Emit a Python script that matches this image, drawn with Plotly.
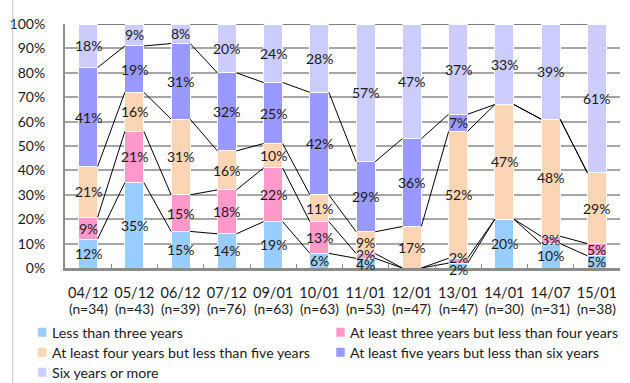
import plotly.graph_objects as go

# Survey waves and sample sizes
periods = ["04/12", "05/12", "06/12", "07/12", "09/01", "10/01",
           "11/01", "12/01", "13/01", "14/01", "14/07", "15/01"]
sample_sizes = [34, 43, 39, 76, 63, 63, 53, 47, 47, 30, 31, 38]

# Share of respondents per tenure band (%)
less_than_3 = [12, 35, 15, 14, 19, 6, 4, 0, 2, 20, 10, 5]
from_3_to_4 = [9, 21, 15, 18, 22, 13, 2, 0, 2, 0, 3, 5]
from_4_to_5 = [21, 16, 31, 16, 10, 11, 9, 17, 52, 47, 48, 29]
from_5_to_6 = [41, 19, 31, 32, 25, 42, 29, 36, 7, 0, 0, 0]
six_or_more = [18, 9, 8, 20, 24, 28, 57, 47, 37, 33, 39, 61]

series_names = [
    "Less than three years",
    "At least three years but less than four years",
    "At least four years but less than five years",
    "At least five years but less than six years",
    "Six years or more",
]
series_values = [less_than_3, from_3_to_4, from_4_to_5, from_5_to_6, six_or_more]
series_colors = ["#99CCFF", "#FF99CC", "#FCD5B4", "#9999FF", "#CCCCFF"]

FONT = "Lato"
TEXT_COLOR = "#1a1a1a"
BAR_WIDTH = 0.41

# Figure geometry (pixels)
FIG_W, FIG_H = 630, 383
M_L, M_R, M_T, M_B = 62, 10, 24, 115
PLOT_W = FIG_W - M_L - M_R
PLOT_H = FIG_H - M_T - M_B


def px_x(px):
    return (px - M_L) / PLOT_W


def px_y(py):
    return (FIG_H - M_B - py) / PLOT_H


n = len(periods)
xs = list(range(n))
totals = [sum(vals[i] for vals in series_values) for i in range(n)]
normed = [[vals[i] * 100.0 / totals[i] for i in range(n)] for vals in series_values]

# cumulative bottoms / tops of each stacked segment
bottoms, tops = [], []
running = [0.0] * n
for vals in normed:
    bottoms.append(running[:])
    running = [running[i] + vals[i] for i in range(n)]
    tops.append(running[:])

fig = go.Figure()

for name, vals, color in zip(series_names, normed, series_colors):
    fig.add_trace(go.Bar(
        x=xs, y=vals, name=name, width=BAR_WIDTH,
        marker=dict(color=color, line=dict(color="white", width=1)),
        showlegend=False, hoverinfo="skip",
    ))

# Series lines linking each segment boundary between neighbouring bars
for k in range(len(series_names)):
    lx, ly = [], []
    for i in range(n - 1):
        lx += [xs[i] + BAR_WIDTH / 2, xs[i + 1] - BAR_WIDTH / 2, None]
        ly += [tops[k][i], tops[k][i + 1], None]
    fig.add_trace(go.Scatter(
        x=lx, y=ly, mode="lines", line=dict(color="black", width=1),
        showlegend=False, hoverinfo="skip",
    ))

# small vertical nudges for crowded labels near the baseline
label_shift = {(0, 8): -4, (1, 8): 3, (0, 6): -1, (1, 6): 1}

annotations = []
for k, raw in enumerate(series_values):
    for i in range(n):
        if raw[i] == 0:
            continue
        center = (bottoms[k][i] + tops[k][i]) / 2
        annotations.append(dict(
            x=xs[i], y=center, xref="x", yref="y", text=f"{raw[i]}%",
            showarrow=False, xanchor="center", yanchor="middle",
            yshift=label_shift.get((k, i), 0),
            font=dict(family=FONT, size=14, color=TEXT_COLOR),
        ))

# second line of each category label: sample size
for i in range(n):
    annotations.append(dict(
        x=xs[i], y=px_y(308), xref="x", yref="paper", text=f"(n={sample_sizes[i]})",
        showarrow=False, xanchor="center", yanchor="middle",
        font=dict(family=FONT, size=13.8, color=TEXT_COLOR),
    ))

# Legend drawn as swatches and text in two columns
legend_pos = [(35, 332), (335, 332), (35, 352), (335, 352), (35, 372)]
shapes = []
for (lx, ly), name, color in zip(legend_pos, series_names, series_colors):
    shapes.append(dict(
        type="rect", xref="paper", yref="paper",
        x0=px_x(lx), x1=px_x(lx + 8), y0=px_y(ly + 4.5), y1=px_y(ly - 4),
        fillcolor=color, line=dict(color=color, width=0.5),
    ))
    annotations.append(dict(
        x=px_x(lx + 12), y=px_y(ly), xref="paper", yref="paper",
        text=name, showarrow=False, xanchor="left", yanchor="middle",
        font=dict(family=FONT, size=14.2, color=TEXT_COLOR),
    ))

# outer frame edge on the left
shapes.append(dict(
    type="line", xref="paper", yref="paper",
    x0=px_x(9.5), x1=px_x(9.5), y0=px_y(FIG_H), y1=px_y(0),
    line=dict(color="#BFBFBF", width=1),
))

fig.update_layout(
    width=FIG_W, height=FIG_H,
    margin=dict(l=M_L, r=M_R, t=M_T, b=M_B, pad=0),
    barmode="stack", bargap=0.59,
    paper_bgcolor="white", plot_bgcolor="white",
    font=dict(family=FONT, size=14, color=TEXT_COLOR),
    showlegend=False,
    annotations=annotations, shapes=shapes,
    xaxis=dict(
        range=[-0.5, n - 0.5], tickmode="array", tickvals=xs, ticktext=periods,
        tickangle=0,
        showgrid=False, zeroline=False, showline=True, linecolor="#8C8C8C", linewidth=2.5,
        ticks="", ticklabelstandoff=10, tickfont=dict(family=FONT, size=14.5, color=TEXT_COLOR),
        minor=dict(tickvals=[i + 0.5 for i in range(n - 1)], ticks="inside",
                   ticklen=4, tickcolor="#8C8C8C", tickwidth=1, showgrid=False),
        fixedrange=True,
    ),
    yaxis=dict(
        range=[0, 100], tickmode="array", tickvals=list(range(0, 101, 10)),
        ticktext=[f"{v}%" for v in range(0, 101, 10)],
        showgrid=True, gridcolor="#A6A6A6", gridwidth=1.5, zeroline=False,
        showline=True, linecolor="#8C8C8C", linewidth=2,
        ticks="", ticklabelstandoff=15,
        tickfont=dict(family=FONT, size=14, color=TEXT_COLOR),
        fixedrange=True,
    ),
)

fig.write_html("out.html")
